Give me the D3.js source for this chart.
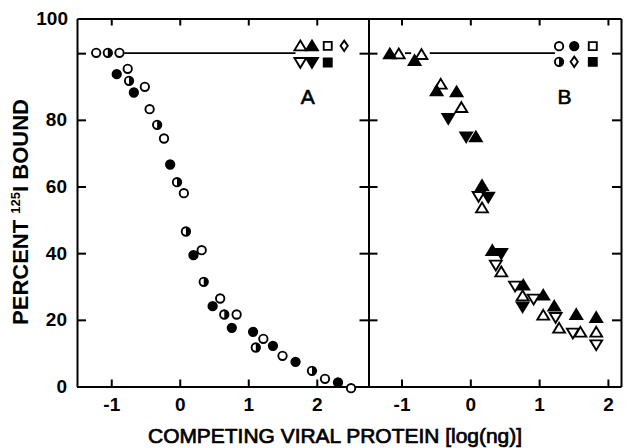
<!DOCTYPE html>
<html>
<head>
<meta charset="utf-8">
<script src="https://cdn.jsdelivr.net/npm/d3@7"></script>
<style>
body { margin: 0; background: #fff; }
svg { display: block; font-family: "Liberation Sans", Arial, Helvetica, sans-serif; }
</style>
</head>
<body>
<svg id="chart" width="629" height="448"></svg>
<script>
// panel A : competition with circles (log ng, percent bound)
var openCircleA = [[-1.22,100.1],[-0.88,100.1],[-0.76,95.3],[-0.51,89.9],[-0.44,83.2],[-0.23,74.4],
  [0.06,58.0],[0.32,40.9],[0.59,26.4],[0.83,21.6],[1.22,14.3],[1.50,9.2],[2.12,2.3],[2.50,-0.5]];
var filledCircleA = [[-0.92,93.7],[-0.67,88.2],[-0.14,66.6],[0.20,39.4],[0.48,24.1],[0.76,17.6],
  [1.07,16.4],[1.36,12.2],[1.69,7.4],[2.31,1.2]];
var halfCircleA = [[-1.05,100.1],[-0.74,91.7],[-0.33,78.5],[-0.04,61.3],[0.09,46.5],[0.35,31.4],
  [0.65,21.6],[1.11,11.7],[1.93,4.7]];
// non competing proteins, panel A
var flatA = [[1.76,102.2,"upOpen"],[1.93,102.2,"upFilled"],[2.16,102.2,"squareOpen"],[2.40,102.2,"diamond"],
  [1.76,97.2,"downOpen"],[1.93,97.2,"downFilled"],[2.16,97.2,"squareFilled"]];
var lineA = [[-0.81,1.69]];

// panel B : competition with triangles
var openUpB = [[-1.04,99.8],[-0.71,99.6],[-0.43,90.7],[-0.13,83.7],[0.17,53.6],[0.45,34.4],
  [0.76,27.2],[1.06,21.4],[1.29,17.5],[1.60,16.3],[1.83,16.3]];
var filledUpB = [[-1.17,99.8],[-0.81,97.8],[-0.49,88.7],[-0.20,88.4],[0.08,74.9],[0.17,60.3],
  [0.32,40.8],[0.77,30.4],[1.06,27.4],[1.22,24.1],[1.54,21.6],[1.83,20.7]];
var openDownB = [[0.12,57.0],[0.37,36.4],[0.65,30.1],[0.92,26.2],[1.24,20.7],[1.49,16.0],[1.83,12.5]];
var filledDownB = [[-0.32,80.4],[-0.06,74.9],[0.26,56.8],[0.45,39.9],[0.76,23.9]];
// non competing proteins, panel B
var flatB = [[1.29,102.1,"circleOpen"],[1.51,102.1,"circleFilled"],[1.78,102.1,"squareOpen"],
  [1.29,97.4,"circleHalf"],[1.51,97.4,"diamond"],[1.78,97.4,"squareFilled"]];
var lineB = [[-0.95,-0.86],[-0.59,1.23]];

var controlLevel = 100;
var xTicks = [-1, 0, 1, 2];
var yTicks = [0, 20, 40, 60, 80, 100];
var xTitle = "COMPETING VIRAL PROTEIN [log(ng)]";

var frameLeft = 77, frameRight = 621, divider = 368.5, frameTop = 18.5, frameBottom = 386.5;

var svg = d3.select("#chart");

var xA = d3.scaleLinear().domain([-1.5, 2.755]).range([frameLeft, divider]);
var xB = d3.scaleLinear().domain([-1.48, 2.19]).range([divider, frameRight]);
var y = d3.scaleLinear().domain([0, 110.4]).range([frameBottom, frameTop]);

function styleAxis(g) {
  g.selectAll("path, line").attr("stroke", "#000").attr("stroke-width", 2);
  g.selectAll("text").attr("fill", "#000").style("font-size", "19px").style("font-weight", "bold")
    .style("font-family", "'Liberation Sans', Arial, sans-serif");
}

// left axis, "100" sits at the top corner like the original
svg.append("g").attr("transform", "translate(" + frameLeft + ",0)")
  .call(d3.axisLeft(y).tickValues(yTicks).tickSize(-9).tickSizeOuter(0).tickPadding(10)
    .tickFormat(function(d) { return d === 100 ? "" : d; }))
  .call(styleAxis);
svg.append("text").attr("x", frameLeft - 9).attr("y", y(y.domain()[1])).attr("dy", "0.36em")
  .attr("text-anchor", "end").style("font-size", "19px").style("font-weight", "bold").text("100");

// right frame and divider
svg.append("g").attr("transform", "translate(" + frameRight + ",0)")
  .call(d3.axisLeft(y).tickValues(yTicks).tickSize(9).tickSizeOuter(0).tickFormat(""))
  .call(styleAxis);
svg.append("g").attr("transform", "translate(" + divider + ",0)")
  .call(d3.axisLeft(y).tickValues(yTicks).tickSize(9).tickSizeOuter(0).tickFormat(""))
  .call(styleAxis);
svg.append("g").attr("transform", "translate(" + divider + ",0)")
  .call(d3.axisRight(y).tickValues(yTicks).tickSize(9).tickSizeOuter(0).tickFormat(""))
  .call(styleAxis);

// bottom and top of both panels
[xA, xB].forEach(function(x) {
  svg.append("g").attr("transform", "translate(0," + frameBottom + ")")
    .call(d3.axisBottom(x).tickValues(xTicks).tickSize(-7).tickSizeOuter(0).tickPadding(11)
      .tickFormat(function(d) { return String(d); }))
    .call(styleAxis);
  svg.append("g").attr("transform", "translate(0," + frameTop + ")")
    .call(d3.axisTop(x).tickValues(xTicks).tickSize(-7).tickSizeOuter(0).tickFormat(""))
    .call(styleAxis);
});

// control lines
function drawLines(segs, x) {
  svg.append("g").selectAll("line").data(segs).enter().append("line")
    .attr("x1", function(d) { return x(d[0]); })
    .attr("x2", function(d) { return x(d[1]); })
    .attr("y1", y(controlLevel)).attr("y2", y(controlLevel))
    .attr("stroke", "#000").attr("stroke-width", 1.8);
}
drawLines(lineA, xA);
drawLines(lineB, xB);

// marker shapes
var r = 4.2;
var circle = d3.arc()({innerRadius: 0, outerRadius: r, startAngle: 0, endAngle: 2 * Math.PI});
var up = "M0,-5.3L5.9,4.5L-5.9,4.5Z";
var down = "M0,5.3L5.9,-4.5L-5.9,-4.5Z";
var square = "M-4,-4H4V4H-4Z";
var shapes = {
  upOpen: up, upFilled: up, downOpen: down, downFilled: down,
  squareOpen: square, squareFilled: square,
  diamond: "M0,-5.2L3.6,0L0,5.2L-3.6,0Z",
  circleOpen: circle, circleFilled: circle, circleHalf: circle
};
var halfPath = d3.arc()({innerRadius: 0, outerRadius: r, startAngle: 0, endAngle: Math.PI});

function drawMarkers(pts, x, kind) {
  var g = svg.append("g").selectAll("g").data(pts).enter().append("g")
    .attr("transform", function(d) { return "translate(" + x(d[0]) + "," + y(d[1]) + ")"; });
  g.append("path")
    .attr("d", function(d) { return shapes[d[2] || kind]; })
    .attr("fill", function(d) { return /Filled/.test(d[2] || kind) ? "#000" : "#fff"; })
    .attr("stroke", "#000").attr("stroke-width", 1.9).attr("stroke-linejoin", "miter");
  g.filter(function(d) { return (d[2] || kind) === "circleHalf"; })
    .append("path").attr("d", halfPath).attr("fill", "#000");
}

drawMarkers(openCircleA, xA, "circleOpen");
drawMarkers(filledCircleA, xA, "circleFilled");
drawMarkers(halfCircleA, xA, "circleHalf");
drawMarkers(flatA, xA);

drawMarkers(openUpB, xB, "upOpen");
drawMarkers(openDownB, xB, "downOpen");
drawMarkers(filledUpB, xB, "upFilled");
drawMarkers(filledDownB, xB, "downFilled");
drawMarkers(flatB, xB);

// panel letters
svg.append("text").attr("x", xA(1.87)).attr("y", y(87)).attr("dy", "0.36em")
  .attr("text-anchor", "middle").attr("stroke", "#000").attr("stroke-width", 0.6)
  .style("font-size", "21px").text("A");
svg.append("text").attr("x", xB(1.37)).attr("y", y(87)).attr("dy", "0.36em")
  .attr("text-anchor", "middle").attr("stroke", "#000").attr("stroke-width", 0.6)
  .style("font-size", "21px").text("B");

// axis titles
svg.append("text").attr("x", 335).attr("y", 443).attr("text-anchor", "middle")
  .attr("textLength", 374).attr("lengthAdjust", "spacingAndGlyphs")
  .attr("stroke", "#000").attr("stroke-width", 0.7)
  .style("font-size", "20px").text(xTitle);

var yl = svg.append("text").attr("transform", "translate(28,212) rotate(-90)")
  .attr("text-anchor", "middle").style("font-size", "22px").style("font-weight", "bold");
yl.append("tspan").text("PERCENT ");
yl.append("tspan").attr("dy", -8).style("font-size", "13px").text("125");
yl.append("tspan").attr("dy", 8).text("I BOUND");
</script>
</body>
</html>
